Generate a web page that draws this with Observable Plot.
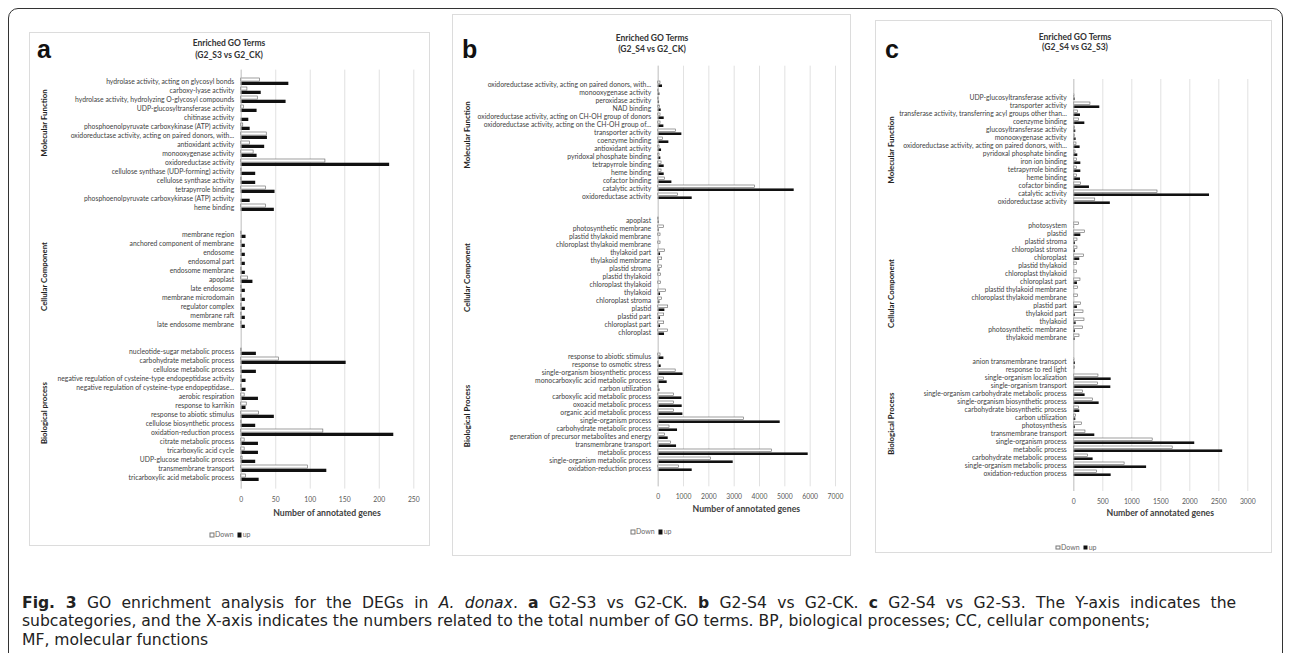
<!DOCTYPE html>
<html><head><meta charset="utf-8">
<script src="https://cdn.jsdelivr.net/npm/d3@7"></script>
<script src="https://cdn.jsdelivr.net/npm/@observablehq/plot@0.6"></script>
<style>
body{margin:0;background:#fff;width:1292px;height:653px;overflow:hidden;position:relative;font-family:Lato,sans-serif;}
.frame{position:absolute;left:8px;top:8px;width:1275px;height:700px;border:1.3px solid #333;border-radius:10px;box-sizing:border-box;}
.panel{position:absolute;border:1px solid #dcdcdc;box-sizing:border-box;}
.t{position:absolute;line-height:1;white-space:nowrap;}
.chart{position:absolute;}
.caption{position:absolute;left:22px;top:593.5px;font-family:"DejaVu Sans",sans-serif;font-size:15.6px;line-height:18.7px;color:#222;white-space:nowrap;}
.caption span{display:inline-block;}
.sq{display:inline-block;width:4.5px;height:4.5px;box-sizing:border-box;margin-right:1px;vertical-align:-0.5px;}
</style></head>
<body>
<div class="frame"></div>
<div id="root"></div>
<div class="caption" id="cap"><span id="l1"><b>Fig. 3</b> GO enrichment analysis for the DEGs in <i>A. donax</i>. <b>a</b> G2-S3 vs G2-CK. <b>b</b> G2-S4 vs G2-CK. <b>c</b> G2-S4 vs G2-S3. The Y-axis indicates the</span><br><span id="l2">subcategories, and the X-axis indicates the numbers related to the total number of GO terms. BP, biological processes; CC, cellular components;</span><br><span id="l3">MF, molecular functions</span></div>
<script>
// ---------- Panel a (G2_S3 vs G2_CK) ----------
const aMF = ["hydrolase activity, acting on glycosyl bonds","carboxy-lyase activity","hydrolase activity, hydrolyzing O-glycosyl compounds","UDP-glucosyltransferase activity","chitinase activity","phosphoenolpyruvate carboxykinase (ATP) activity","oxidoreductase activity, acting on paired donors, with...","antioxidant activity","monooxygenase activity","oxidoreductase activity","cellulose synthase (UDP-forming) activity","cellulose synthase activity","tetrapyrrole binding","phosphoenolpyruvate carboxykinase (ATP) activity","heme binding"];
const aMFdown = [27,9,24,4,0,3,37,13,18,122,1,1,36,0,36];
const aMFup   = [69,29,65,23,11,13,38,34,23,215,21,21,49,13,48];
const aCC = ["membrane region","anchored component of membrane","endosome","endosomal part","endosome membrane","apoplast","late endosome","membrane microdomain","regulator complex","membrane raft","late endosome membrane"];
const aCCdown = [1,1,1,1,1,10,1,1,1,1,1];
const aCCup   = [7,6,6,6,6,17,6,6,6,6,6];
const aBP = ["nucleotide-sugar metabolic process","carbohydrate metabolic process","cellulose metabolic process","negative regulation of cysteine-type endopeptidase activity","negative regulation of cysteine-type endopeptidase...","aerobic respiration","response to karrikin","response to abiotic stimulus","cellulose biosynthetic process","oxidation-reduction process","citrate metabolic process","tricarboxylic acid cycle","UDP-glucose metabolic process","transmembrane transport","tricarboxylic acid metabolic process"];
const aBPdown = [1,55,1,1,1,5,8,26,1,119,5,5,2,97,7];
const aBPup   = [22,152,22,7,7,25,7,48,21,221,25,25,21,124,26];
const aTicks = [0,50,100,150,200,250];

// ---------- Panel b (G2_S4 vs G2_CK) ----------
const bMF = ["oxidoreductase activity, acting on paired donors, with...","monooxygenase activity","peroxidase activity","NAD binding","oxidoreductase activity, acting on CH-OH group of donors","oxidoreductase activity, acting on the CH-OH group of...","transporter activity","coenzyme binding","antioxidant activity","pyridoxal phosphate binding","tetrapyrrole binding","heme binding","cofactor binding","catalytic activity","oxidoreductase activity"];
const bMFdown = [90,40,26,66,92,92,697,197,53,53,132,132,263,3816,776];
const bMFup   = [170,66,53,118,237,224,934,421,132,105,237,237,540,5369,1342];
const bCC = ["apoplast","photosynthetic membrane","plastid thylakoid membrane","chloroplast thylakoid membrane","thylakoid part","thylakoid membrane","plastid stroma","plastid thylakoid","chloroplast thylakoid","thylakoid","chloroplast stroma","plastid","plastid part","chloroplast part","chloroplast"];
const bCCdown = [26,224,92,92,263,158,145,118,118,303,145,395,237,237,382];
const bCCup   = [40,40,0,0,92,40,66,0,0,92,66,263,92,92,250];
const bBP = ["response to abiotic stimulus","response to osmotic stress","single-organism biosynthetic process","monocarboxylic acid metabolic process","carbon utilization","carboxylic acid metabolic process","oxoacid metabolic process","organic acid metabolic process","single-organism process","carbohydrate metabolic process","generation of precursor metabolites and energy","transmembrane transport","metabolic process","single-organism metabolic process","oxidation-reduction process"];
const bBPdown = [92,40,690,224,40,618,618,618,3395,447,263,513,4500,2079,829];
const bBPup   = [224,118,980,355,66,934,947,974,4817,763,395,724,5922,2961,1342];
const bTicks = [0,1000,2000,3000,4000,5000,6000,7000];

// ---------- Panel c (G2_S4 vs G2_S3) ----------
const cMF = ["UDP-glucosyltransferase activity","transporter activity","transferase activity, transferring acyl groups other than...","coenzyme binding","glucosyltransferase activity","monooxygenase activity","oxidoreductase activity, acting on paired donors, with...","pyridoxal phosphate binding","iron ion binding","tetrapyrrole binding","heme binding","cofactor binding","catalytic activity","oxidoreductase activity"];
const cMFdown = [11,287,69,92,17,17,46,29,52,52,52,126,1443,370];
const cMFup   = [23,448,115,190,34,40,109,69,121,121,115,270,2340,630];
const cCC = ["photosystem","plastid","plastid stroma","chloroplast stroma","chloroplast","plastid thylakoid","chloroplast thylakoid","chloroplast part","plastid thylakoid membrane","chloroplast thylakoid membrane","plastid part","thylakoid part","thylakoid","photosynthetic membrane","thylakoid membrane"];
const cCCdown = [86,190,63,63,178,57,57,115,69,69,121,167,184,161,98];
const cCCup   = [8,121,29,29,103,0,0,63,0,0,63,29,40,29,23];
const cBP = ["anion transmembrane transport","response to red light","single-organism localization","single-organism transport","single-organism carbohydrate metabolic process","single-organism biosynthetic process","carbohydrate biosynthetic process","carbon utilization","photosynthesis","transmembrane transport","single-organism process","metabolic process","carbohydrate metabolic process","single-organism metabolic process","oxidation-reduction process"];
const cBPdown = [11,17,425,420,161,328,92,40,144,201,1360,1705,247,876,402];
const cBPup   = [29,0,644,638,195,437,103,34,29,362,2085,2567,333,1255,644];
const cTicks = [0,500,1000,1500,2000,2500,3000];

const seriesNames = ["Down","up"];
const titleLine1 = "Enriched GO Terms";
const xTitle = "Number of annotated genes";

const panels = [
  {letter:"a", sub:"(G2_S3 vs G2_CK)", groupNames:["Molecular Function","Cellular Component","Biological process"],
   groups:[[aMF,aMFdown,aMFup],[aCC,aCCdown,aCCup],[aBP,aBPdown,aBPup]], ticks:aTicks, max:250,
   box:[29,32,401,514], svg:[30,60,400,470], ml:210.7, mr:16.7, mt:9.65, mb:41.4, tp:8.1,
   letterPos:[37,49.3], titleX:229, titleY:[43.3,54.6], xTitleY:512.3, gx:43.5, gy:[123,276.5,413], legend:[230,534.3]},
  {letter:"b", sub:"(G2_S4 vs G2_CK)", groupNames:["Molecular Function","Cellular Component","Biological Process"],
   groups:[[bMF,bMFdown,bMFup],[bCC,bCCdown,bCCup],[bBP,bBPdown,bBPup]], ticks:bTicks, max:7000,
   box:[452,14,399,542], svg:[453,56,398,464], ml:204.7, mr:16, mt:9.7, mb:33.7, tp:7.1,
   letterPos:[462,49.3], titleX:652, titleY:[38.3,49.3], xTitleY:508.3, gx:467, gy:[135,277.5,416], legend:[651,531]},
  {letter:"c", sub:"(G2_S4 vs G2_S3)", groupNames:["Molecular Function","Cellular Component","Biological Process"],
   groups:[[cMF,cMFdown,cMFup],[cCC,cCCdown,cCCup],[cBP,cBPdown,cBPup]], ticks:cTicks, max:3000,
   box:[875,20,397,533], svg:[876,70,396,455], ml:197.3, mr:24.7, mt:9, mb:34, tp:7.7,
   letterPos:[885,49.3], titleX:1075, titleY:[36.7,47.2], xTitleY:512.3, gx:891, gy:[150,293.5,423.7], legend:[1076,546.7]}
];

const root = document.getElementById("root");
function addText(html, x, y, css, anchor="middle") {
  const d = document.createElement("div");
  d.className = "t";
  d.innerHTML = html;
  d.style.left = x + "px"; d.style.top = y + "px";
  const tx = anchor === "middle" ? "-50%" : anchor === "end" ? "-100%" : "0";
  d.style.transform = `translate(${tx},-50%)`;
  Object.assign(d.style, css);
  root.appendChild(d);
  return d;
}

for (const p of panels) {
  const box = document.createElement("div");
  box.className = "panel";
  Object.assign(box.style, {left:p.box[0]+"px", top:p.box[1]+"px", width:p.box[2]+"px", height:p.box[3]+"px"});
  root.appendChild(box);

  const keys = [], labels = new Map(), rows = [];
  p.groups.forEach(([labs, down, up], gi) => {
    if (gi > 0) { keys.push(`gap${gi}a`, `gap${gi}b`); }
    labs.forEach((lab, i) => {
      const k = `${gi}-${i}`;
      keys.push(k); labels.set(k, lab);
      rows.push({key:k, down:down[i], up:up[i]});
    });
  });
  const [sl, st, w, h] = p.svg;
  const step = (h - p.mt - p.mb) / keys.length;
  const bw = step * 0.8;

  const chart = Plot.plot({
    width: w, height: h,
    marginLeft: p.ml, marginRight: p.mr, marginTop: p.mt, marginBottom: p.mb,
    style: {fontFamily:"Lato", fontSize:"6.8px", color:"#3f3f3f", background:"transparent", overflow:"visible"},
    x: {domain:[0, p.max], label:null},
    y: {domain: keys, paddingInner:0.2, paddingOuter:0.1, label:null},
    marks: [
      Plot.gridX(p.ticks, {stroke:"#d9d9d9", strokeOpacity:1, strokeWidth:0.8}),
      Plot.barX(rows.filter(d => d.down > 0), {y:"key", x:"down", fill:"#fff", stroke:"#5e5e5e", strokeWidth:0.6, insetBottom: bw/2 + 0.2}),
      Plot.barX(rows.filter(d => d.up > 0), {y:"key", x:"up", fill:"#111", insetTop: bw/2}),
      Plot.ruleX([0], {stroke:"#bfbfbf", strokeWidth:0.8}),
      Plot.axisY({tickSize:0, tickPadding:7, tickFormat: k => labels.get(k) ?? "", label:null}),
      Plot.axisX(p.ticks, {tickSize:0, tickPadding:p.tp, label:null, fontSize:6.8, fill:"#595959", tickFormat: d => String(d)})
    ]
  });
  chart.classList.add("chart");
  chart.style.left = sl + "px"; chart.style.top = st + "px";
  root.appendChild(chart);

  const svg = d3.select(chart);
  const xr = chart.scale("x").range;
  svg.append("text")
    .attr("x", (xr[0] + xr[1]) / 2).attr("y", p.xTitleY - st)
    .attr("text-anchor","middle").attr("dominant-baseline","central")
    .style("font-weight","bold").style("font-size","8.7px").attr("fill","#404040")
    .text(xTitle);
  p.groupNames.forEach((g, i) => {
    svg.append("text")
      .attr("transform", `translate(${p.gx - sl},${p.gy[i] - st}) rotate(-90)`)
      .attr("text-anchor","middle").attr("dominant-baseline","central")
      .style("font-weight","bold").style("font-size","7.8px").attr("fill","#222")
      .text(g);
  });

  addText(p.letter, p.letterPos[0], p.letterPos[1], {fontFamily:"'Liberation Sans',Arial,sans-serif", fontWeight:"bold", fontSize:"25px", color:"#111"}, "start");
  addText(titleLine1, p.titleX, p.titleY[0], {fontWeight:"bold", fontSize:"8.5px", color:"#333"});
  addText(p.sub, p.titleX, p.titleY[1], {fontWeight:"bold", fontSize:"8.5px", color:"#333"});
  addText(`<span class="sq" style="background:#fff;border:0.8px solid #777"></span>${seriesNames[0]}&nbsp;&nbsp;<span class="sq" style="background:#111"></span>${seriesNames[1]}`,
    p.legend[0], p.legend[1], {fontSize:"7px", color:"#666"});
}

// caption: fit line 2 to ~1128px, then stretch line 1 (justified) to ~1214px
const l1 = document.getElementById("l1"), l2 = document.getElementById("l2");
const cap = document.getElementById("cap");
const n2 = l2.textContent.length;
const ls = (1128 - l2.getBoundingClientRect().width) / n2;
cap.style.letterSpacing = ls.toFixed(3) + "px";
const spaces1 = (l1.textContent.match(/ /g) || []).length;
const ws = (1214 - l1.getBoundingClientRect().width) / spaces1;
l1.style.wordSpacing = Math.max(0, ws).toFixed(2) + "px";
</script>
</body></html>
